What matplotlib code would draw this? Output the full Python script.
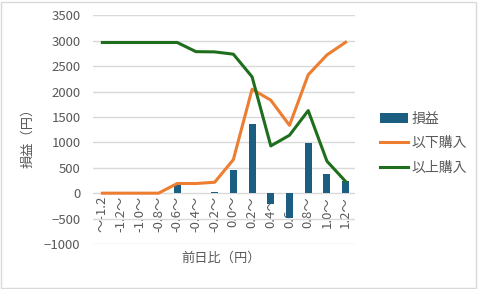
import matplotlib
matplotlib.use("Agg")
import matplotlib.pyplot as plt
import numpy as np
from matplotlib.patches import Rectangle

plt.rcParams['font.family'] = ['Noto Sans CJK JP', 'DejaVu Sans']

categories = ["～-1.2", "-1.2～", "-1.0～", "-0.8～", "-0.6～", "-0.4～", "-0.2～",
              "0.0～", "0.2～", "0.4～", "0.6～", "0.8～", "1.0～", "1.2～"]
profit = [0, 0, 0, 0, 170, 0, 30, 450, 1360, -220, -480, 990, 385, 230]
buy_below = [0, 0, 0, 0, 190, 190, 215, 660, 2045, 1830, 1335, 2330, 2720, 2970]
buy_above = [2965, 2965, 2965, 2965, 2965, 2785, 2780, 2735, 2290, 930, 1140, 1625, 630, 230]

gray = "#595959"
bar_c = "#1B5E82"
orange = "#ED7D31"
green = "#1E6E1E"

fig = plt.figure(figsize=(4.81, 2.89), dpi=100)
ax = fig.add_axes([93/481, 1-244/289, 262/481, (244-15.3)/289])

x = np.arange(len(categories))
b = ax.bar(x, profit, width=0.38, color=bar_c, label="損益", zorder=2)
l1, = ax.plot(x, buy_below, color=orange, lw=2.2, label="以下購入", zorder=3)
l2, = ax.plot(x, buy_above, color=green, lw=2.2, label="以上購入", zorder=3)

ax.set_xlim(-0.5, len(categories)-0.5)
ax.set_ylim(-1000, 3500)
ax.set_yticks(np.arange(-1000, 3501, 500))
ax.yaxis.grid(True, color="#D9D9D9", lw=1, zorder=0)
ax.set_axisbelow(True)
for s in ["top", "right", "left"]:
    ax.spines[s].set_visible(False)
ax.spines["bottom"].set_position(("data", 0))
ax.spines["bottom"].set_visible(False)
ax.set_xticks(x)
ax.set_xticklabels(categories, rotation=90, fontsize=9.5, color=gray)
ax.tick_params(axis="both", length=0, labelsize=9.5, colors=gray)
ax.tick_params(axis="x", pad=2)
ax.tick_params(axis="y", pad=9)

fig.text(28/481, 1-135/289, "損益（円）", rotation=90, ha="center", va="center",
         fontsize=9.5, color=gray)
fig.text(221/481, 1-258/289, "前日比（円）", ha="center", va="center",
         fontsize=9.5, color=gray)

fig.legend([b, l1, l2], ["損益", "以下購入", "以上購入"],
           loc="center left", bbox_to_anchor=(373/481, 1-143/289), frameon=False,
           fontsize=10, labelcolor=gray, handlelength=2.0, handletextpad=0.25,
           labelspacing=0.75, borderpad=0)

fig.patches.append(Rectangle((0.5/481, 1.5/289), 476/481, 286/289, transform=fig.transFigure,
                             fill=False, edgecolor="#D9D9D9", lw=1))

fig.savefig("out.png", dpi=100)
